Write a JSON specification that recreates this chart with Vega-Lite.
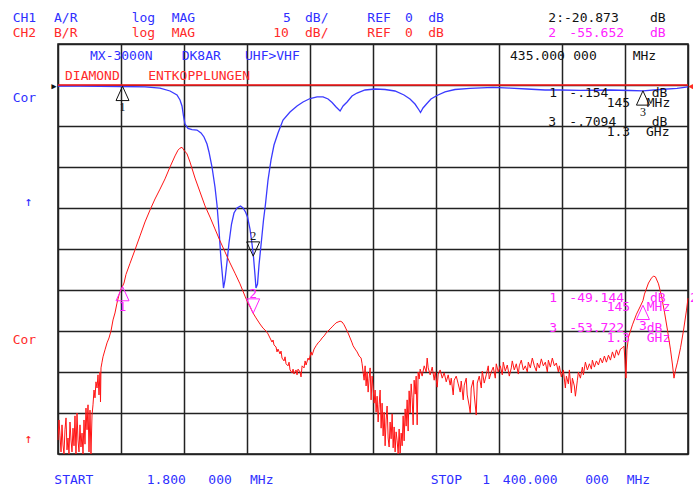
{
  "$schema": "https://vega.github.io/schema/vega-lite/v6.json",
  "width": 630,
  "height": 410,
  "autosize": {"type": "none"},
  "padding": {"left": 58, "top": 44, "right": 5, "bottom": 32},
  "background": "#ffffff",
  "config": {
    "view": {"stroke": "#111111", "strokeWidth": 1.5},
    "text": {"font": "DejaVu Sans Mono", "fontSize": 13},
    "axis": {"grid": true, "labels": false, "ticks": false, "domain": false, "title": null, "gridColor": "#222222", "gridWidth": 1.5, "gridOpacity": 1}
  },
  "datasets": {
    "ch1": [
      {"f":1.8,"d":-0.12},{"f":50.6,"d":-0.12},{"f":139.4,"d":-0.18},{"f":194.9,"d":-0.24},{"f":228.2,"d":-0.37},{"f":250.4,"d":-0.73},{"f":265.9,"d":-1.22},{"f":272.6,"d":-1.83},{"f":277.0,"d":-2.56},{"f":280.3,"d":-3.78},{"f":283.7,"d":-4.76},{"f":290.3,"d":-5.30},{"f":299.2,"d":-5.43},{"f":310.3,"d":-5.49},{"f":319.2,"d":-5.85},{"f":325.8,"d":-6.34},{"f":332.5,"d":-7.20},{"f":336.9,"d":-8.17},{"f":343.6,"d":-10.00},{"f":350.2,"d":-12.44},{"f":354.7,"d":-14.63},{"f":359.1,"d":-17.68},{"f":363.6,"d":-21.34},{"f":368.0,"d":-24.02},{"f":369.1,"d":-24.76},{"f":372.4,"d":-23.78},{"f":376.9,"d":-21.59},{"f":381.3,"d":-19.27},{"f":386.9,"d":-16.95},{"f":392.4,"d":-15.61},{"f":399.1,"d":-15.00},{"f":406.8,"d":-14.76},{"f":412.4,"d":-15.00},{"f":417.9,"d":-15.49},{"f":422.4,"d":-16.10},{"f":427.9,"d":-17.56},{"f":432.4,"d":-19.39},{"f":435.7,"d":-20.98},{"f":439.0,"d":-23.17},{"f":441.2,"d":-24.76},{"f":444.6,"d":-24.27},{"f":447.9,"d":-21.95},{"f":453.5,"d":-18.90},{"f":457.9,"d":-16.46},{"f":462.3,"d":-14.51},{"f":467.9,"d":-11.59},{"f":474.5,"d":-9.15},{"f":481.2,"d":-7.32},{"f":490.1,"d":-5.85},{"f":501.2,"d":-4.27},{"f":516.7,"d":-3.29},{"f":532.3,"d":-2.56},{"f":545.6,"d":-2.07},{"f":561.3,"d":-1.65},{"f":576.8,"d":-1.46},{"f":590.1,"d":-1.46},{"f":601.2,"d":-1.71},{"f":610.1,"d":-2.13},{"f":619.0,"d":-2.68},{"f":627.9,"d":-3.17},{"f":634.5,"d":-2.56},{"f":643.4,"d":-2.07},{"f":654.3,"d":-1.34},{"f":665.4,"d":-0.98},{"f":683.2,"d":-0.61},{"f":705.4,"d":-0.49},{"f":727.5,"d":-0.55},{"f":749.7,"d":-0.73},{"f":769.7,"d":-1.22},{"f":783.0,"d":-1.71},{"f":794.1,"d":-2.32},{"f":803.0,"d":-3.05},{"f":806.3,"d":-3.35},{"f":811.9,"d":-2.80},{"f":819.6,"d":-2.32},{"f":829.6,"d":-1.71},{"f":842.9,"d":-1.28},{"f":860.7,"d":-0.85},{"f":882.9,"d":-0.55},{"f":916.2,"d":-0.40},{"f":967.3,"d":-0.28},{"f":1005.0,"d":-0.37},{"f":1042.7,"d":-0.49},{"f":1082.7,"d":-0.61},{"f":1116.0,"d":-0.61},{"f":1160.4,"d":-0.65},{"f":1226.9,"d":-0.61},{"f":1271.3,"d":-0.67},{"f":1300.2,"d":-0.71},{"f":1337.9,"d":-0.55},{"f":1375.6,"d":-0.40},{"f":1400,"d":-0.24}
    ],
    "ch2": [
      {"f":1.8,"d":-86.6},{"f":4.0,"d":-81.7},{"f":6.2,"d":-85.4},{"f":8.5,"d":-89.5},{"f":10.7,"d":-82.9},{"f":12.9,"d":-87.8},{"f":15.1,"d":-90.0},{"f":17.3,"d":-84.1},{"f":19.6,"d":-81.2},{"f":21.8,"d":-89.0},{"f":24.0,"d":-86.1},{"f":26.2,"d":-90.0},{"f":28.4,"d":-82.2},{"f":30.7,"d":-86.6},{"f":32.9,"d":-89.5},{"f":35.1,"d":-83.7},{"f":37.3,"d":-88.0},{"f":39.5,"d":-80.7},{"f":41.7,"d":-90.0},{"f":44.0,"d":-80.0},{"f":46.2,"d":-86.6},{"f":48.4,"d":-89.5},{"f":50.6,"d":-82.9},{"f":52.8,"d":-88.3},{"f":55.1,"d":-84.9},{"f":57.3,"d":-90.0},{"f":59.5,"d":-81.7},{"f":61.7,"d":-87.6},{"f":63.9,"d":-78.8},{"f":66.2,"d":-84.1},{"f":68.4,"d":-78.0},{"f":70.6,"d":-89.5},{"f":72.8,"d":-79.3},{"f":75.0,"d":-90.0},{"f":77.3,"d":-80.5},{"f":79.5,"d":-78.0},{"f":81.7,"d":-74.4},{"f":83.9,"d":-76.3},{"f":86.1,"d":-72.4},{"f":88.4,"d":-73.9},{"f":90.6,"d":-70.7},{"f":92.8,"d":-75.6},{"f":95.0,"d":-70.0},{"f":96.1,"d":-77.3},{"f":97.2,"d":-69.0},{"f":99.5,"d":-67.6},{"f":101.7,"d":-66.3},{"f":106.1,"d":-64.6},{"f":110.6,"d":-62.9},{"f":115.0,"d":-61.7},{"f":119.4,"d":-60.0},{"f":123.9,"d":-57.3},{"f":128.3,"d":-55.6},{"f":132.7,"d":-53.2},{"f":137.2,"d":-51.2},{"f":141.6,"d":-49.8},{"f":145.0,"d":-49.1},{"f":148.3,"d":-48.3},{"f":152.7,"d":-46.2},{"f":161.6,"d":-43.5},{"f":172.7,"d":-40.2},{"f":183.8,"d":-36.8},{"f":194.9,"d":-33.4},{"f":206.0,"d":-30.5},{"f":217.1,"d":-27.8},{"f":228.2,"d":-25.4},{"f":239.3,"d":-22.9},{"f":250.4,"d":-20.0},{"f":261.5,"d":-17.3},{"f":268.1,"d":-15.9},{"f":272.6,"d":-15.4},{"f":277.0,"d":-15.2},{"f":281.4,"d":-15.9},{"f":288.1,"d":-16.8},{"f":294.8,"d":-18.8},{"f":305.9,"d":-22.7},{"f":317.0,"d":-26.1},{"f":328.1,"d":-29.5},{"f":339.1,"d":-32.2},{"f":350.2,"d":-35.1},{"f":361.3,"d":-38.0},{"f":372.4,"d":-40.7},{"f":383.5,"d":-43.4},{"f":394.6,"d":-45.9},{"f":405.7,"d":-48.5},{"f":416.8,"d":-51.5},{"f":423.5,"d":-53.2},{"f":427.9,"d":-54.1},{"f":434.6,"d":-55.6},{"f":441.2,"d":-56.8},{"f":450.1,"d":-58.3},{"f":456.8,"d":-59.3},{"f":463.4,"d":-60.0},{"f":467.9,"d":-60.7},{"f":472.3,"d":-61.7},{"f":476.8,"d":-62.7},{"f":479.0,"d":-62.2},{"f":481.2,"d":-63.4},{"f":485.7,"d":-63.9},{"f":487.9,"d":-65.1},{"f":490.1,"d":-64.4},{"f":494.5,"d":-65.6},{"f":496.8,"d":-64.9},{"f":499.0,"d":-66.6},{"f":503.4,"d":-67.3},{"f":505.7,"d":-66.3},{"f":507.9,"d":-68.0},{"f":512.3,"d":-68.5},{"f":514.6,"d":-67.6},{"f":516.8,"d":-69.5},{"f":521.2,"d":-70.2},{"f":523.5,"d":-69.3},{"f":525.7,"d":-70.5},{"f":530.1,"d":-69.5},{"f":532.3,"d":-70.7},{"f":534.6,"d":-69.3},{"f":539.0,"d":-70.0},{"f":541.2,"d":-71.2},{"f":543.5,"d":-68.5},{"f":547.9,"d":-69.0},{"f":550.2,"d":-67.3},{"f":552.4,"d":-68.3},{"f":556.8,"d":-66.6},{"f":559.1,"d":-67.1},{"f":563.5,"d":-65.1},{"f":565.7,"d":-65.9},{"f":570.2,"d":-64.4},{"f":574.6,"d":-63.6},{"f":579.0,"d":-62.9},{"f":583.5,"d":-62.4},{"f":587.9,"d":-61.7},{"f":592.4,"d":-61.2},{"f":596.8,"d":-60.5},{"f":601.2,"d":-60.0},{"f":605.7,"d":-59.5},{"f":610.1,"d":-59.0},{"f":614.5,"d":-58.5},{"f":619.0,"d":-58.0},{"f":623.4,"d":-57.8},{"f":627.9,"d":-57.6},{"f":632.3,"d":-57.8},{"f":636.8,"d":-58.5},{"f":641.2,"d":-59.5},{"f":645.6,"d":-60.5},{"f":650.1,"d":-61.7},{"f":654.5,"d":-62.9},{"f":656.7,"d":-63.6},{"f":661.2,"d":-64.4},{"f":665.6,"d":-65.1},{"f":670.1,"d":-66.1},{"f":674.5,"d":-66.6},{"f":676.7,"d":-68.0},{"f":678.9,"d":-70.0},{"f":681.2,"d":-72.0},{"f":683.4,"d":-68.5},{"f":685.6,"d":-73.4},{"f":687.8,"d":-70.0},{"f":690.1,"d":-74.9},{"f":692.3,"d":-71.5},{"f":694.5,"d":-69.0},{"f":696.7,"d":-76.8},{"f":698.9,"d":-71.0},{"f":701.2,"d":-73.9},{"f":703.4,"d":-77.6},{"f":705.6,"d":-74.4},{"f":707.8,"d":-79.8},{"f":710.0,"d":-75.9},{"f":712.3,"d":-82.2},{"f":714.5,"d":-78.0},{"f":716.7,"d":-74.4},{"f":718.9,"d":-83.7},{"f":721.1,"d":-77.6},{"f":723.4,"d":-85.6},{"f":725.6,"d":-79.8},{"f":727.8,"d":-88.0},{"f":730.0,"d":-81.7},{"f":732.2,"d":-78.3},{"f":734.5,"d":-86.1},{"f":736.7,"d":-88.3},{"f":738.9,"d":-82.2},{"f":741.1,"d":-86.3},{"f":743.4,"d":-80.2},{"f":745.6,"d":-88.5},{"f":747.8,"d":-83.4},{"f":750.0,"d":-89.5},{"f":752.2,"d":-84.6},{"f":754.5,"d":-86.8},{"f":756.7,"d":-90.0},{"f":758.9,"d":-83.9},{"f":761.1,"d":-89.8},{"f":763.4,"d":-84.9},{"f":765.6,"d":-88.0},{"f":767.8,"d":-80.7},{"f":770.0,"d":-86.8},{"f":772.2,"d":-79.0},{"f":774.5,"d":-83.2},{"f":776.7,"d":-76.8},{"f":778.9,"d":-84.4},{"f":781.1,"d":-74.6},{"f":783.3,"d":-80.0},{"f":785.6,"d":-72.9},{"f":787.8,"d":-76.3},{"f":790.0,"d":-82.9},{"f":792.2,"d":-72.0},{"f":794.5,"d":-75.4},{"f":796.7,"d":-71.0},{"f":798.9,"d":-82.9},{"f":801.1,"d":-70.0},{"f":803.4,"d":-71.7},{"f":805.6,"d":-69.3},{"f":810.0,"d":-71.0},{"f":814.5,"d":-68.5},{"f":818.9,"d":-70.0},{"f":821.1,"d":-66.6},{"f":823.4,"d":-69.0},{"f":827.8,"d":-70.7},{"f":832.3,"d":-68.8},{"f":836.7,"d":-72.0},{"f":838.9,"d":-70.0},{"f":843.4,"d":-73.7},{"f":845.6,"d":-70.5},{"f":850.0,"d":-69.5},{"f":854.5,"d":-71.5},{"f":858.9,"d":-70.2},{"f":863.4,"d":-72.4},{"f":867.8,"d":-70.7},{"f":872.2,"d":-73.2},{"f":874.5,"d":-71.5},{"f":878.9,"d":-75.6},{"f":881.1,"d":-72.0},{"f":885.6,"d":-71.0},{"f":890.0,"d":-72.9},{"f":894.5,"d":-74.9},{"f":896.7,"d":-72.2},{"f":901.1,"d":-76.8},{"f":903.4,"d":-73.2},{"f":907.8,"d":-71.5},{"f":910.0,"d":-75.6},{"f":914.5,"d":-78.3},{"f":916.7,"d":-80.0},{"f":918.9,"d":-73.9},{"f":923.4,"d":-72.0},{"f":925.6,"d":-75.6},{"f":930.0,"d":-80.5},{"f":932.3,"d":-72.7},{"f":936.7,"d":-71.0},{"f":941.2,"d":-73.9},{"f":943.4,"d":-69.8},{"f":947.8,"d":-72.7},{"f":952.3,"d":-70.7},{"f":956.7,"d":-68.5},{"f":958.9,"d":-71.7},{"f":963.4,"d":-70.0},{"f":967.8,"d":-68.8},{"f":972.3,"d":-71.5},{"f":974.5,"d":-68.0},{"f":978.9,"d":-70.0},{"f":983.4,"d":-68.5},{"f":987.8,"d":-70.7},{"f":990.0,"d":-67.6},{"f":994.5,"d":-69.8},{"f":998.9,"d":-68.3},{"f":1003.4,"d":-71.0},{"f":1007.8,"d":-69.0},{"f":1010.0,"d":-67.3},{"f":1014.5,"d":-69.5},{"f":1018.9,"d":-68.0},{"f":1023.4,"d":-70.5},{"f":1025.6,"d":-68.5},{"f":1030.0,"d":-67.1},{"f":1034.5,"d":-69.5},{"f":1038.9,"d":-68.5},{"f":1043.4,"d":-70.0},{"f":1045.6,"d":-67.6},{"f":1050.0,"d":-69.0},{"f":1054.5,"d":-66.6},{"f":1058.9,"d":-68.5},{"f":1063.4,"d":-69.8},{"f":1065.6,"d":-67.8},{"f":1070.1,"d":-69.0},{"f":1074.5,"d":-66.8},{"f":1078.9,"d":-68.5},{"f":1083.4,"d":-67.6},{"f":1087.8,"d":-70.0},{"f":1090.1,"d":-67.1},{"f":1094.5,"d":-68.8},{"f":1098.9,"d":-66.6},{"f":1103.4,"d":-68.5},{"f":1107.8,"d":-67.8},{"f":1112.3,"d":-70.0},{"f":1114.5,"d":-68.5},{"f":1118.9,"d":-71.2},{"f":1123.4,"d":-69.5},{"f":1127.8,"d":-73.9},{"f":1130.1,"d":-71.0},{"f":1134.5,"d":-72.9},{"f":1136.7,"d":-69.5},{"f":1141.2,"d":-75.1},{"f":1143.4,"d":-71.5},{"f":1147.8,"d":-73.4},{"f":1150.1,"d":-75.9},{"f":1154.5,"d":-72.0},{"f":1156.7,"d":-70.0},{"f":1161.2,"d":-71.5},{"f":1165.6,"d":-68.8},{"f":1167.8,"d":-70.7},{"f":1172.3,"d":-67.6},{"f":1176.7,"d":-69.5},{"f":1181.2,"d":-68.0},{"f":1185.6,"d":-69.3},{"f":1187.8,"d":-67.1},{"f":1192.3,"d":-68.8},{"f":1196.7,"d":-67.3},{"f":1201.2,"d":-68.3},{"f":1205.6,"d":-66.6},{"f":1210.0,"d":-67.8},{"f":1214.5,"d":-66.1},{"f":1218.9,"d":-67.6},{"f":1223.5,"d":-65.9},{"f":1227.9,"d":-67.1},{"f":1232.3,"d":-65.1},{"f":1236.8,"d":-66.6},{"f":1241.2,"d":-64.6},{"f":1245.6,"d":-65.9},{"f":1250.1,"d":-64.4},{"f":1254.5,"d":-64.1},{"f":1257.9,"d":-63.7},{"f":1260.1,"d":-67.1},{"f":1262.3,"d":-71.5},{"f":1264.5,"d":-64.6},{"f":1267.9,"d":-61.5},{"f":1276.7,"d":-58.5},{"f":1285.6,"d":-55.9},{"f":1294.5,"d":-53.9},{"f":1300.0,"d":-52.6},{"f":1303.4,"d":-51.0},{"f":1312.3,"d":-48.3},{"f":1318.9,"d":-47.1},{"f":1323.4,"d":-46.6},{"f":1327.8,"d":-46.8},{"f":1334.5,"d":-48.5},{"f":1341.2,"d":-51.5},{"f":1347.8,"d":-55.4},{"f":1354.5,"d":-59.8},{"f":1361.2,"d":-64.6},{"f":1365.6,"d":-68.3},{"f":1368.9,"d":-71.5},{"f":1372.3,"d":-69.5},{"f":1376.7,"d":-67.6},{"f":1383.4,"d":-64.1},{"f":1390.1,"d":-59.8},{"f":1396.7,"d":-54.9},{"f":1400.0,"d":-52.0}
    ],
    "m1": [
      {"m":"1","f":145,"d":-0.154,"dir":"up"},
      {"m":"2","f":435,"d":-20.873,"dir":"down"},
      {"m":"3","f":1300,"d":-0.7094,"dir":"up"}
    ],
    "m2": [
      {"m":"1","f":145,"d":-49.144,"dir":"up"},
      {"m":"2","f":435,"d":-55.652,"dir":"down"},
      {"m":"3","f":1300,"d":-53.7223,"dir":"up"}
    ],
    "labels": [
      {"g":"ch1","t":"CH1","f":-98.7,"d":7.68},
      {"g":"ch1","t":"A/R","f":-7.1,"d":7.68},
      {"g":"ch1","t":"log","f":165.4,"d":7.68},
      {"g":"ch1","t":"MAG","f":254.1,"d":7.68},
      {"g":"ch1","t":"5","f":501.2,"d":7.68},
      {"g":"ch1","t":"dB/","f":550.0,"d":7.68},
      {"g":"ch1","t":"REF","f":688.3,"d":7.68},
      {"g":"ch1","t":"0","f":771.9,"d":7.68},
      {"g":"ch1","t":"dB","f":823.6,"d":7.68},
      {"g":"info","t":"2:-20.873","f":1090.0,"d":7.68},
      {"g":"info","t":"dB","f":1315.7,"d":7.68},
      {"g":"ch2","t":"CH2","f":-98.7,"d":5.82},
      {"g":"ch2","t":"B/R","f":-7.1,"d":5.82},
      {"g":"ch2","t":"log","f":165.4,"d":5.82},
      {"g":"ch2","t":"MAG","f":254.1,"d":5.82},
      {"g":"ch2","t":"10","f":479.6,"d":5.82},
      {"g":"ch2","t":"dB/","f":550.0,"d":5.82},
      {"g":"ch2","t":"REF","f":688.3,"d":5.82},
      {"g":"ch2","t":"0","f":771.9,"d":5.82},
      {"g":"ch2","t":"dB","f":823.6,"d":5.82},
      {"g":"mk2","t":"2","f":1090.0,"d":5.82},
      {"g":"mk2","t":"-55.652","f":1136.6,"d":5.82},
      {"g":"mk2","t":"dB","f":1315.7,"d":5.82},
      {"g":"ch1","t":"MX-3000N","f":72.8,"d":3.1},
      {"g":"ch1","t":"DK8AR","f":276.3,"d":3.1},
      {"g":"ch1","t":"UHF>VHF","f":416.8,"d":3.1},
      {"g":"info","t":"435.000","f":1005.0,"d":3.1},
      {"g":"info","t":"000","f":1145.4,"d":3.1},
      {"g":"info","t":"MHz","f":1277.3,"d":3.1},
      {"g":"ch2","t":"DIAMOND","f":17.3,"d":0.61},
      {"g":"ch2","t":"ENTKOPPLUNGEN","f":202.2,"d":0.61},
      {"g":"info","t":"1","f":1092.2,"d":-1.43},
      {"g":"info","t":"-.154","f":1136.6,"d":-1.43},
      {"g":"info","t":"dB","f":1319.4,"d":-1.43},
      {"g":"info","t":"145","f":1219.6,"d":-2.65},
      {"g":"info","t":"MHz","f":1308.4,"d":-2.65},
      {"g":"info","t":"3","f":1090.0,"d":-4.96},
      {"g":"info","t":"-.7094","f":1136.6,"d":-4.96},
      {"g":"info","t":"dB","f":1319.4,"d":-4.96},
      {"g":"info","t":"1.3","f":1219.6,"d":-6.22},
      {"g":"info","t":"GHz","f":1306.8,"d":-6.22},
      {"g":"mk2","t":"1","f":1092.2,"d":-26.43},
      {"g":"mk2","t":"-49.144","f":1136.6,"d":-26.43},
      {"g":"mk2","t":"dB","f":1315.7,"d":-26.43},
      {"g":"mk2","t":"2","f":1404.4,"d":-26.43},
      {"g":"mk2","t":"145","f":1219.6,"d":-27.6},
      {"g":"mk2","t":"MHz","f":1308.4,"d":-27.6},
      {"g":"mk2","t":"3","f":1092.2,"d":-30.12},
      {"g":"mk2","t":"-53.722","f":1136.6,"d":-30.12},
      {"g":"mk2","t":"dB","f":1308.4,"d":-30.12},
      {"g":"mk2","t":"1.3","f":1219.6,"d":-31.3},
      {"g":"mk2","t":"GHz","f":1308.4,"d":-31.3},
      {"g":"ch1","t":"Cor","f":-98.7,"d":-2.07},
      {"g":"ch1","t":"↑","f":-72.0,"d":-14.76},
      {"g":"ch2","t":"Cor","f":-98.7,"d":-31.6},
      {"g":"ch2","t":"↑","f":-72.0,"d":-43.6},
      {"g":"ch1","t":"START","f":-6.4,"d":-48.7},
      {"g":"ch1","t":"1.800","f":198.7,"d":-48.7},
      {"g":"ch1","t":"000","f":335.4,"d":-48.7},
      {"g":"ch1","t":"MHz","f":427.9,"d":-48.7},
      {"g":"ch1","t":"STOP","f":829.0,"d":-48.7},
      {"g":"ch1","t":"1","f":943.3,"d":-48.7},
      {"g":"ch1","t":"400.000","f":989.0,"d":-48.7},
      {"g":"ch1","t":"000","f":1171.9,"d":-48.7},
      {"g":"ch1","t":"MHz","f":1264.0,"d":-48.7},
      {"g":"info","t":"▸","f":-16.0,"d":-0.6},
      {"g":"ch2","t":"◂","f":1398.0,"d":-0.6}
    ]
  },
  "resolve": {"scale": {"y": "independent"}},
  "layer": [
    {
      "layer": [
        {
          "data": {"name": "ch1"},
          "mark": {"type": "line", "color": "#3a3aff", "strokeWidth": 1.3, "interpolate": "linear"},
          "encoding": {
            "x": {"field": "f", "type": "quantitative",
                  "scale": {"domain": [1.8, 1400], "nice": false, "zero": false},
                  "axis": {"values": [1.8, 141.62, 281.44, 421.26, 561.08, 700.9, 840.72, 980.54, 1120.36, 1260.18, 1400]}},
            "y": {"field": "d", "type": "quantitative",
                  "scale": {"domain": [-45, 5], "nice": false, "zero": false},
                  "axis": {"values": [-45, -40, -35, -30, -25, -20, -15, -10, -5, 0, 5]}}
          }
        },
        {
          "data": {"name": "m1"},
          "mark": {"type": "point", "filled": false, "size": 169, "stroke": "#111111", "strokeWidth": 1, "opacity": 1},
          "encoding": {
            "x": {"field": "f", "type": "quantitative",
                  "axis": {"values": [1.8, 141.62, 281.44, 421.26, 561.08, 700.9, 840.72, 980.54, 1120.36, 1260.18, 1400]}},
            "y": {"field": "d", "type": "quantitative",
                  "axis": {"values": [-45, -40, -35, -30, -25, -20, -15, -10, -5, 0, 5]}},
            "shape": {"field": "dir", "type": "nominal",
                      "scale": {"domain": ["up", "down"], "range": ["M0,0L-1,2.2L1,2.2Z", "M0,0L-1,-2.2L1,-2.2Z"]},
                      "legend": null}
          }
        },
        {
          "data": {"name": "m1"},
          "transform": [{"filter": "datum.dir === 'up'"}],
          "mark": {"type": "text", "color": "#111111", "dy": 21, "fontSize": 12, "font": "Liberation Serif", "baseline": "middle"},
          "encoding": {
            "x": {"field": "f", "type": "quantitative",
                  "axis": {"values": [1.8, 141.62, 281.44, 421.26, 561.08, 700.9, 840.72, 980.54, 1120.36, 1260.18, 1400]}},
            "y": {"field": "d", "type": "quantitative",
                  "axis": {"values": [-45, -40, -35, -30, -25, -20, -15, -10, -5, 0, 5]}},
            "text": {"field": "m"}
          }
        },
        {
          "data": {"name": "m1"},
          "transform": [{"filter": "datum.dir === 'down'"}],
          "mark": {"type": "text", "color": "#111111", "dy": -20, "fontSize": 12, "font": "Liberation Serif", "baseline": "middle"},
          "encoding": {
            "x": {"field": "f", "type": "quantitative",
                  "axis": {"values": [1.8, 141.62, 281.44, 421.26, 561.08, 700.9, 840.72, 980.54, 1120.36, 1260.18, 1400]}},
            "y": {"field": "d", "type": "quantitative",
                  "axis": {"values": [-45, -40, -35, -30, -25, -20, -15, -10, -5, 0, 5]}},
            "text": {"field": "m"}
          }
        }
      ]
    },
    {
      "layer": [
        {
          "data": {"values": [{"d": 0}]},
          "mark": {"type": "rule", "color": "#ff1a1a", "strokeWidth": 1.5},
          "encoding": {
            "y": {"field": "d", "type": "quantitative",
                  "scale": {"domain": [-90, 10], "nice": false, "zero": false}, "axis": null}
          }
        },
        {
          "data": {"name": "ch2"},
          "mark": {"type": "line", "color": "#ff1414", "strokeWidth": 1, "interpolate": "linear"},
          "encoding": {
            "x": {"field": "f", "type": "quantitative",
                  "axis": {"values": [1.8, 141.62, 281.44, 421.26, 561.08, 700.9, 840.72, 980.54, 1120.36, 1260.18, 1400]}},
            "y": {"field": "d", "type": "quantitative", "axis": null}
          }
        },
        {
          "data": {"name": "m2"},
          "mark": {"type": "point", "filled": false, "size": 169, "stroke": "#ff22ff", "strokeWidth": 1, "opacity": 1},
          "encoding": {
            "x": {"field": "f", "type": "quantitative",
                  "axis": {"values": [1.8, 141.62, 281.44, 421.26, 561.08, 700.9, 840.72, 980.54, 1120.36, 1260.18, 1400]}},
            "y": {"field": "d", "type": "quantitative", "axis": null},
            "shape": {"field": "dir", "type": "nominal",
                      "scale": {"domain": ["up", "down"], "range": ["M0,0L-1,2.2L1,2.2Z", "M0,0L-1,-2.2L1,-2.2Z"]},
                      "legend": null}
          }
        },
        {
          "data": {"name": "m2"},
          "transform": [{"filter": "datum.dir === 'up'"}],
          "mark": {"type": "text", "color": "#ff22ff", "dy": 21, "fontSize": 13, "baseline": "middle"},
          "encoding": {
            "x": {"field": "f", "type": "quantitative",
                  "axis": {"values": [1.8, 141.62, 281.44, 421.26, 561.08, 700.9, 840.72, 980.54, 1120.36, 1260.18, 1400]}},
            "y": {"field": "d", "type": "quantitative", "axis": null},
            "text": {"field": "m"}
          }
        },
        {
          "data": {"name": "m2"},
          "transform": [{"filter": "datum.dir === 'down'"}],
          "mark": {"type": "text", "color": "#ff22ff", "dy": -19, "fontSize": 13, "baseline": "middle"},
          "encoding": {
            "x": {"field": "f", "type": "quantitative",
                  "axis": {"values": [1.8, 141.62, 281.44, 421.26, 561.08, 700.9, 840.72, 980.54, 1120.36, 1260.18, 1400]}},
            "y": {"field": "d", "type": "quantitative", "axis": null},
            "text": {"field": "m"}
          }
        }
      ]
    },
    {
      "data": {"name": "labels"},
      "mark": {"type": "text", "align": "left", "baseline": "alphabetic"},
      "encoding": {
        "x": {"field": "f", "type": "quantitative",
              "axis": {"values": [1.8, 141.62, 281.44, 421.26, 561.08, 700.9, 840.72, 980.54, 1120.36, 1260.18, 1400]}},
        "y": {"field": "d", "type": "quantitative", "scale": {"domain": [-45, 5], "nice": false, "zero": false}, "axis": null},
        "text": {"field": "t"},
        "color": {"field": "g", "type": "nominal",
                  "scale": {"domain": ["ch1", "ch2", "info", "mk2"], "range": ["#2f2fff", "#ff2a2a", "#111111", "#ff22ff"]},
                  "legend": null}
      }
    }
  ]
}
